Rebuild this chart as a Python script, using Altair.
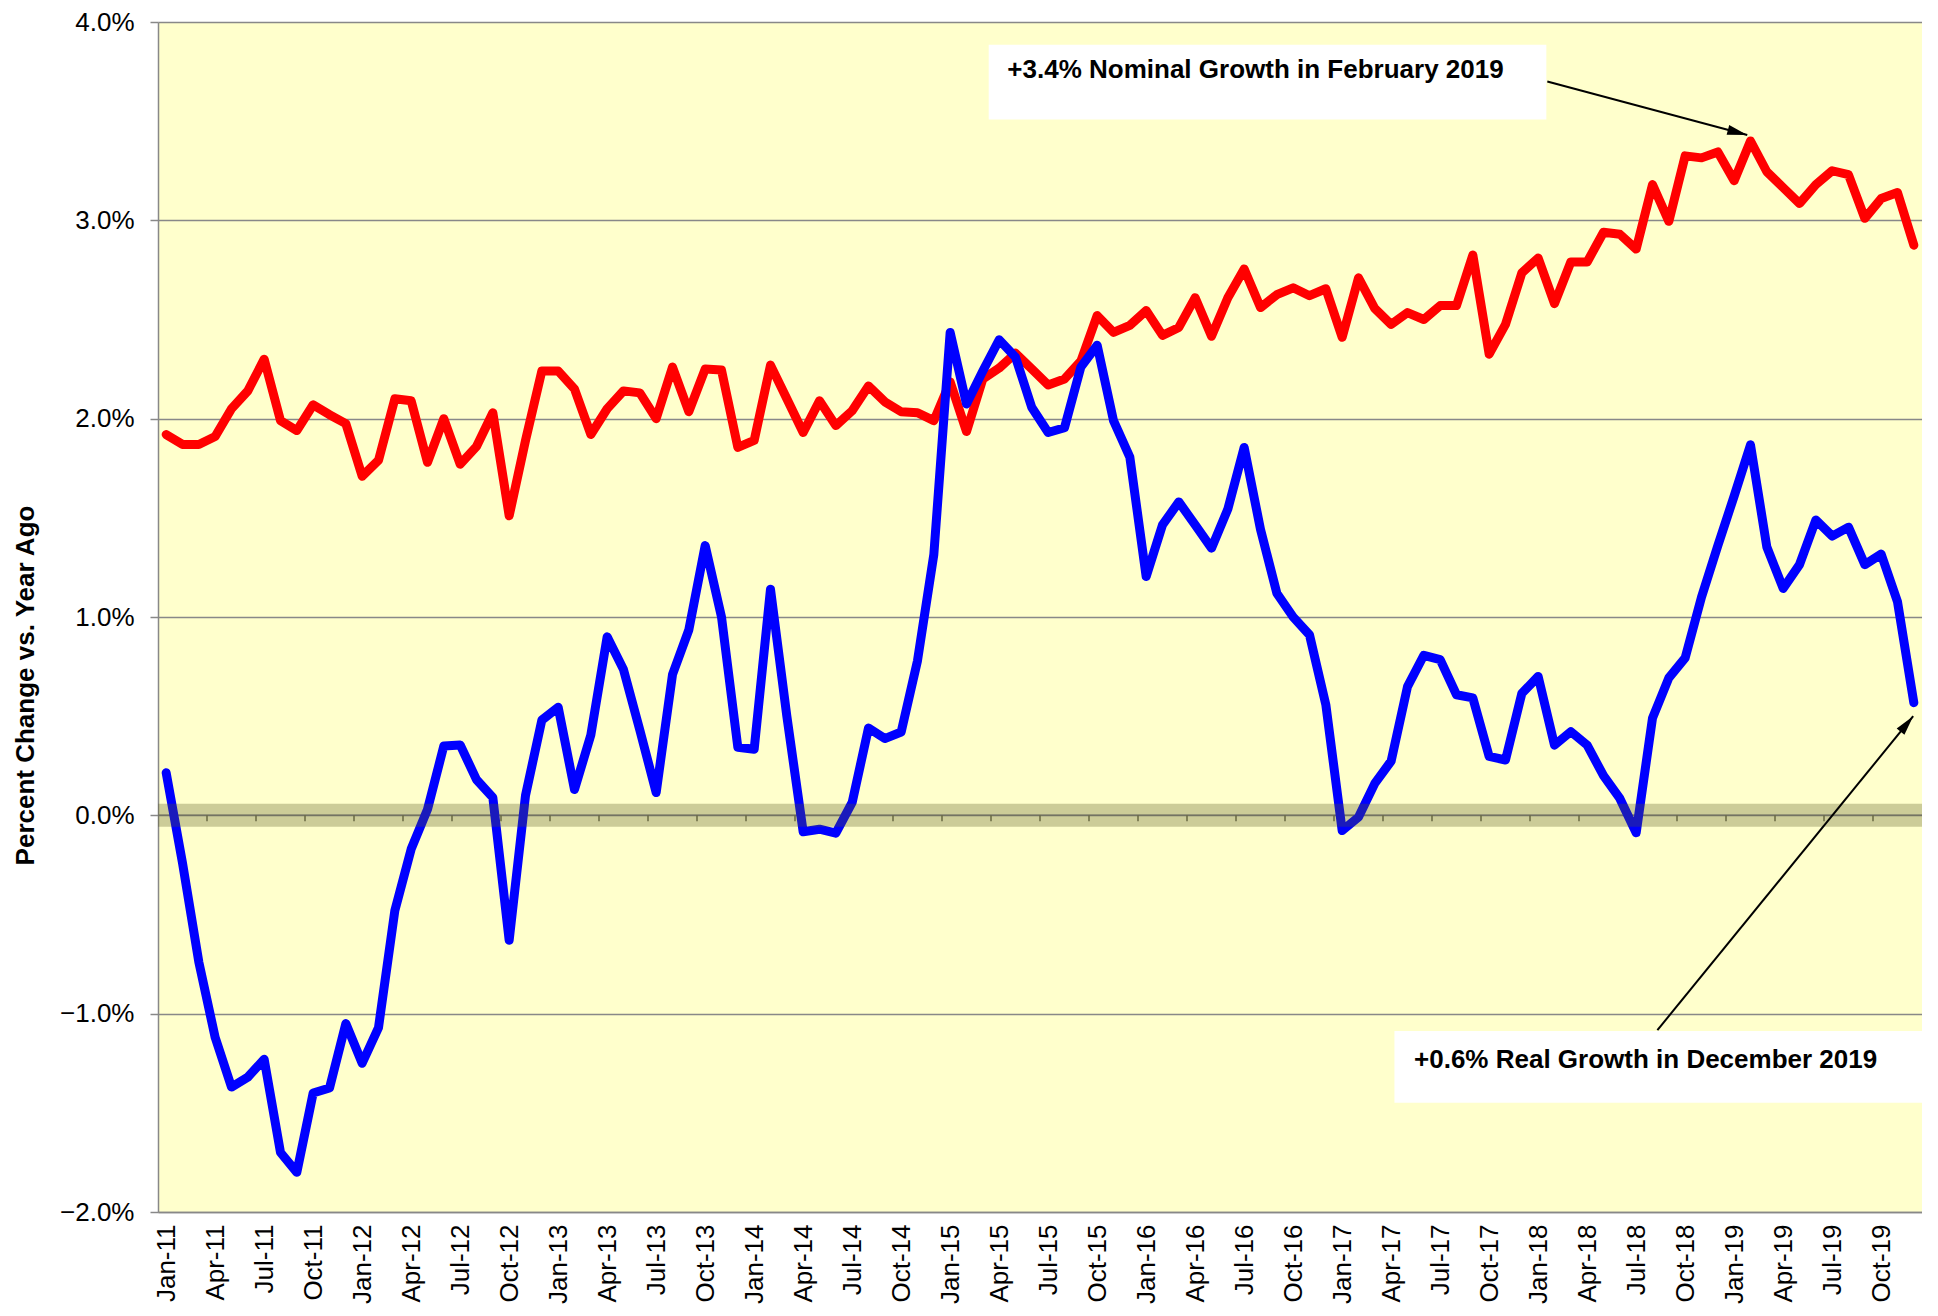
import json
import math
import altair as alt
import pandas as pd

# ---------------- data ----------------
tick_labels = [
    "Jan-11", "Apr-11", "Jul-11", "Oct-11",
    "Jan-12", "Apr-12", "Jul-12", "Oct-12",
    "Jan-13", "Apr-13", "Jul-13", "Oct-13",
    "Jan-14", "Apr-14", "Jul-14", "Oct-14",
    "Jan-15", "Apr-15", "Jul-15", "Oct-15",
    "Jan-16", "Apr-16", "Jul-16", "Oct-16",
    "Jan-17", "Apr-17", "Jul-17", "Oct-17",
    "Jan-18", "Apr-18", "Jul-18", "Oct-18",
    "Jan-19", "Apr-19", "Jul-19", "Oct-19",
]

# Nominal growth (red), Jan-11 .. Dec-19, percent vs. year ago
nominal = [
    1.92, 1.87, 1.87, 1.91, 2.05, 2.14, 2.30, 1.99, 1.94, 2.07, 2.02, 1.975,
    1.71, 1.79, 2.10, 2.09, 1.78, 2.00, 1.77, 1.86, 2.03, 1.51, 1.89, 2.24,
    2.24, 2.15, 1.92, 2.05, 2.14, 2.13, 2.00, 2.26, 2.035, 2.25, 2.245, 1.855,
    1.89, 2.27, 2.10, 1.93, 2.09, 1.965, 2.04, 2.165, 2.085, 2.035, 2.03, 1.99,
    2.185, 1.935, 2.20, 2.255, 2.33, 2.25, 2.17, 2.20, 2.29, 2.52, 2.435, 2.47,
    2.545, 2.42, 2.46, 2.61, 2.415, 2.61, 2.755, 2.56, 2.625, 2.66, 2.62, 2.655,
    2.41, 2.71, 2.555, 2.475, 2.535, 2.50, 2.57, 2.57, 2.825, 2.325, 2.475, 2.735,
    2.81, 2.58, 2.79, 2.79, 2.94, 2.93, 2.855, 3.18, 2.995, 3.325, 3.315, 3.345,
    3.20, 3.40, 3.245, 3.165, 3.085, 3.18, 3.25, 3.23, 3.01, 3.11, 3.14, 2.875,
]

# Real growth (blue), Jan-11 .. Dec-19
real = [
    0.215, -0.24, -0.74, -1.12, -1.37, -1.32, -1.23, -1.70, -1.80, -1.40, -1.375, -1.05,
    -1.25, -1.07, -0.48, -0.17, 0.03, 0.35, 0.355, 0.18, 0.09, -0.63, 0.10, 0.48,
    0.545, 0.13, 0.405, 0.90, 0.735, 0.43, 0.115, 0.71, 0.935, 1.36, 1.00, 0.343,
    0.333, 1.14, 0.50, -0.083, -0.07, -0.09, 0.065, 0.44, 0.387, 0.42, 0.78, 1.315,
    2.435, 2.074, 2.24, 2.398, 2.31, 2.056, 1.93, 1.954, 2.26, 2.37, 1.99, 1.806,
    1.204, 1.465, 1.58, 1.465, 1.347, 1.544, 1.855, 1.442, 1.12, 1.00, 0.91, 0.558,
    -0.077, -0.009, 0.161, 0.274, 0.649, 0.807, 0.785, 0.608, 0.592, 0.297, 0.279, 0.615,
    0.70, 0.354, 0.422, 0.354, 0.20, 0.085, -0.088, 0.49, 0.693, 0.794, 1.10, 1.36,
    1.61, 1.868, 1.353, 1.144, 1.264, 1.489, 1.408, 1.453, 1.264, 1.317, 1.077, 0.568,
]

y_ticks = [-2, -1, 0, 1, 2, 3, 4]

ann_text = ["+3.4% Nominal Growth in February 2019",
            "+0.6% Real Growth in December 2019"]
# annotation anchors in data units (month index, percent)
box_x = [50.36, 75.2]
box_x2 = [84.5, 107.5]
box_y = [3.885, -1.088]
box_y2 = [3.509, -1.449]
text_x = [51.5, 76.4]
text_y = [3.76, -1.233]
arrow_x = [84.56, 91.3]
arrow_y = [3.70, -1.083]
arrow_x2 = [96.8, 106.96]
arrow_y2 = [3.43, 0.50]

# ---------------- layout ----------------
W, H = 1764, 1190
n = len(nominal)
x_lo, x_hi = -0.5, n - 0.5
y_lo, y_hi = -2, 4
px_per_x = W / (x_hi - x_lo)
px_per_y = H / (y_hi - y_lo)

FONT = "Liberation Sans"
GRID = "#888888"

df = pd.DataFrame({
    "idx": list(range(n)) * 2,
    "value": nominal + real,
    "series": ["Nominal"] * n + ["Real"] * n,
})

xscale = alt.Scale(domain=[x_lo, x_hi], nice=False, zero=False)
yscale = alt.Scale(domain=[y_lo, y_hi], nice=False, zero=False)

label_values = [3 * k for k in range(len(tick_labels))]
label_expr = json.dumps(tick_labels) + "[round(datum.value/3)]"

x_axis = alt.Axis(
    values=label_values, labelExpr=label_expr, labelAngle=270,
    labelAlign="right", labelBaseline="middle",
    labelFont=FONT, labelFontSize=26, labelColor="black",
    labelPadding=12, labelOverlap=False, labelBound=False, labelFlush=False,
    ticks=False, grid=False, domain=True, domainColor=GRID, domainWidth=1.5,
    title="",
)
y_axis = alt.Axis(
    values=y_ticks, labelExpr="format(datum.value, '.1f') + '%'",
    labelFont=FONT, labelFontSize=26, labelColor="black", labelPadding=16,
    grid=True, gridColor=GRID, gridWidth=1.5,
    domain=True, domainColor=GRID, domainWidth=1.5,
    ticks=True, tickColor=GRID, tickSize=8, tickWidth=1.5,
    title="Percent Change vs. Year Ago", titleFont=FONT, titleFontSize=26,
    titleFontWeight="bold", titleColor="black", titleAngle=270,
    titleAlign="center", titleBaseline="middle", titleX=-133, titleY=663,
)

X = lambda f: alt.X(f, scale=xscale, axis=x_axis)
Y = lambda f: alt.Y(f, scale=yscale, axis=y_axis)

base = alt.Chart(df)

nominal_line = base.transform_filter(alt.datum.series == "Nominal").mark_line(
    color="#FF0000", strokeWidth=9, strokeJoin="round", strokeCap="round"
).encode(x=X("idx:Q"), y=Y("value:Q"))

real_line = base.transform_filter(alt.datum.series == "Real").mark_line(
    color="#0000FF", strokeWidth=9, strokeJoin="round", strokeCap="round"
).encode(x=X("idx:Q"), y=Y("value:Q"))

zero_df = pd.DataFrame({"y": [0]})
zero_line = alt.Chart(zero_df).mark_rule(color="#808080", strokeWidth=1.5).encode(
    y=Y("y:Q")
)
zero_band = alt.Chart(zero_df).mark_rule(
    color="#575721", opacity=0.3, strokeWidth=23
).encode(y=Y("y:Q"))

tick_df = pd.DataFrame({"x": [v - 0.5 for v in label_values[1:]], "y": 0})
zero_ticks = alt.Chart(tick_df).mark_tick(
    orient="vertical", size=6, thickness=1.5, color="#707050", yOffset=3, opacity=1
).encode(x=X("x:Q"), y=Y("y:Q"))

box_df = pd.DataFrame({"x": box_x, "x2": box_x2, "y": box_y, "y2": box_y2})
boxes = alt.Chart(box_df).mark_rect(color="white", opacity=1).encode(
    x=X("x:Q"), x2="x2:Q", y=Y("y:Q"), y2="y2:Q",
)

text_df = pd.DataFrame({"x": text_x, "y": text_y, "text": ann_text})
texts = alt.Chart(text_df).mark_text(
    align="left", baseline="middle", font=FONT, fontSize=26,
    fontWeight="bold", color="black"
).encode(x=X("x:Q"), y=Y("y:Q"), text="text:N")

angles = []
for xa, ya, xb, yb in zip(arrow_x, arrow_y, arrow_x2, arrow_y2):
    dx = (xb - xa) * px_per_x
    dy = -(yb - ya) * px_per_y
    ang = math.degrees(math.atan2(dx, -dy)) % 360
    angles.append(ang)

arrow_df = pd.DataFrame({"x": arrow_x, "y": arrow_y, "x2": arrow_x2,
                         "y2": arrow_y2, "ang": angles})
arrow_lines = alt.Chart(arrow_df).mark_rule(color="black", strokeWidth=2).encode(
    x=X("x:Q"), x2="x2:Q", y=Y("y:Q"), y2="y2:Q",
)
arrow_heads = alt.Chart(arrow_df).mark_point(
    shape="M0,0L0.25,1L-0.25,1Z", size=1600, filled=True,
    color="black", opacity=1, strokeWidth=0
).encode(
    x=X("x2:Q"), y=Y("y2:Q"),
    angle=alt.Angle("ang:Q", scale=None),
)

chart = alt.layer(
    zero_line, zero_ticks, nominal_line, real_line, zero_band,
    boxes, texts, arrow_lines, arrow_heads,
).properties(
    width=W, height=H,
    autosize=alt.AutoSizeParams(type="none"),
    padding={"left": 150, "top": 14, "right": 0, "bottom": 92},
    background="white",
).configure_view(fill="#FFFFCC", stroke="transparent")

chart.save("out.html", embed_options={"renderer": "svg", "actions": False})
